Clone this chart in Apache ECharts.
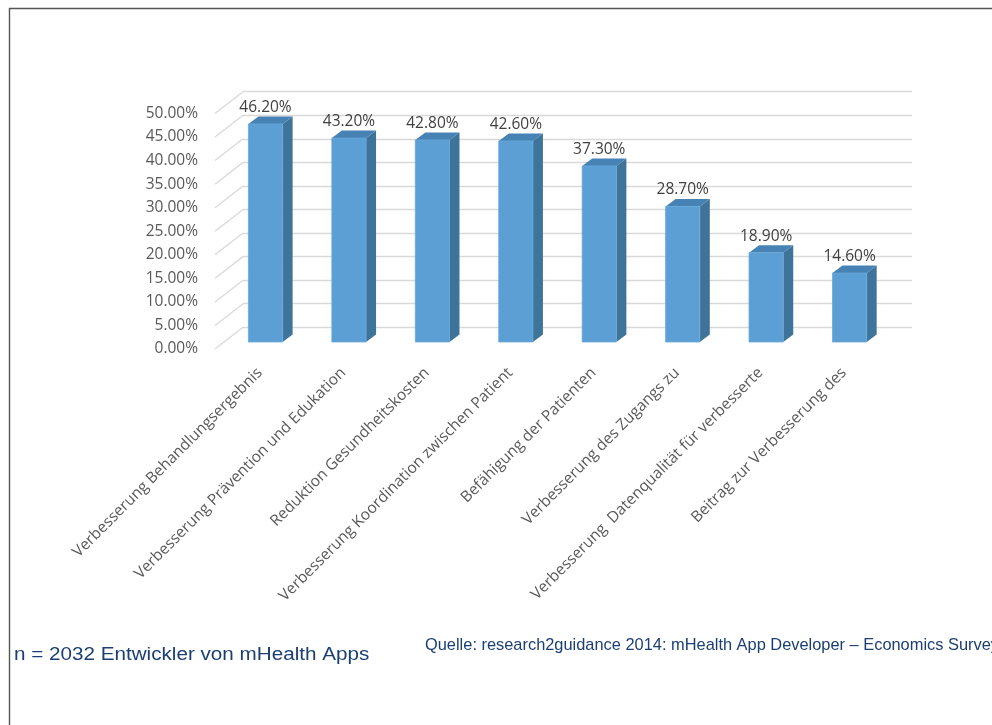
<!DOCTYPE html>
<html><head><meta charset="utf-8">
<script src="https://cdn.jsdelivr.net/npm/echarts@6/dist/echarts.min.js"></script>
<style>html,body{margin:0;padding:0;background:#fff}#c{width:992px;height:725px}</style>
</head><body><div id="c"></div>
<script>
const categories = [
  'Verbesserung Behandlungsergebnis',
  'Verbesserung Prävention und Edukation',
  'Reduktion Gesundheitskosten',
  'Verbesserung Koordination zwischen Patient',
  'Befähigung der Patienten',
  'Verbesserung des Zugangs zu',
  'Verbesserung  Datenqualität für verbesserte',
  'Beitrag zur Verbesserung des'
];
const values = [46.2, 43.2, 42.8, 42.6, 37.3, 28.7, 18.9, 14.6];
const yTicks = [0, 5, 10, 15, 20, 25, 30, 35, 40, 45, 50];
const noteText = 'n = 2032 Entwickler von mHealth Apps';
const sourceText = 'Quelle: research2guidance 2014: mHealth App Developer – Economics Survey';

const FONT = '"Open Sans", "Noto Sans", sans-serif';
const DX = 10, DY = 7.5;
const chart = echarts.init(document.getElementById('c'), null, {renderer: 'canvas'});

function fmt(v) { return v.toFixed(2) + '%'; }

chart.setOption({
  animation: false,
  backgroundColor: '#ffffff',
  grid: [
    {left: 243, top: 91.7, width: 669, height: 235.6},
    {left: 215, top: 113.5, width: 28, height: 235.5},
    {left: 223.8, top: 106, width: 667.5, height: 236}
  ],
  xAxis: [
    {gridIndex: 0, type: 'value', min: 0, max: 1, show: false},
    {gridIndex: 1, type: 'value', min: 0, max: 1, show: false},
    {gridIndex: 2, type: 'category', data: categories,
      axisLine: {show: false}, axisTick: {show: false},
      axisLabel: {rotate: 45, margin: 34, interval: 0, verticalAlign: 'bottom',
        color: '#595959', fontSize: 15.5, fontFamily: FONT}}
  ],
  yAxis: [
    {gridIndex: 0, type: 'value', min: 0, max: 50, interval: 5,
      axisLine: {show: false}, axisTick: {show: false}, axisLabel: {show: false},
      splitLine: {show: true, lineStyle: {color: '#d9d9d9', width: 1.3}}},
    {gridIndex: 1, type: 'value', min: 0, max: 50, interval: 5,
      axisLine: {show: false}, axisTick: {show: false}, splitLine: {show: false},
      axisLabel: {margin: 17, color: '#595959', fontSize: 15.5, fontFamily: FONT, formatter: fmt}},
    {gridIndex: 2, type: 'value', min: 0, max: 50, show: false}
  ],
  series: [{
    type: 'custom',
    xAxisIndex: 2, yAxisIndex: 2,
    z: 5,
    data: values.map((v, i) => [i, v]),
    renderItem: function (params, api) {
      const i = api.value(0), v = api.value(1);
      const top = api.coord([i, v]);
      const bot = api.coord([i, 0]);
      const w = api.size([1, 0])[0] * 0.41;
      const x1 = top[0] - w / 2, x2 = top[0] + w / 2;
      const yT = top[1], yB = bot[1];
      return {
        type: 'group',
        children: [
          {type: 'polygon', shape: {points: [[x2, yT], [x2 + DX, yT - DY], [x2 + DX, yB - DY], [x2, yB]]},
            style: {fill: '#3e7499'}},
          {type: 'polygon', shape: {points: [[x1, yT], [x1 + DX, yT - DY], [x2 + DX, yT - DY], [x2, yT]]},
            style: {fill: '#4682b4'}},
          {type: 'rect', shape: {x: x1, y: yT, width: w, height: yB - yT},
            style: {fill: '#5b9fd4', stroke: '#6aa8da', lineWidth: 0.8}},
          {type: 'text', style: {text: fmt(v), x: top[0], y: yT - 16.5, align: 'center', verticalAlign: 'middle',
            fill: '#404040', font: '15.5px ' + FONT}}
        ]
      };
    }
  }]
});

// floor/side diagonal grid lines linking the front label plane to the back wall
const xFront = chart.convertToPixel({xAxisIndex: 1}, 0);
const xBack = chart.convertToPixel({xAxisIndex: 0}, 0);
const gfx = yTicks.map(v => ({
  type: 'line', z: 0, silent: true,
  shape: {x1: xFront, y1: chart.convertToPixel({yAxisIndex: 1}, v),
          x2: xBack, y2: chart.convertToPixel({yAxisIndex: 0}, v)},
  style: {stroke: '#d9d9d9', lineWidth: 1.3}
}));
gfx.push(
  {type: 'line', z: 10, shape: {x1: 9.5, y1: 8, x2: 9.5, y2: 725}, style: {stroke: '#555555', lineWidth: 1.4}},
  {type: 'line', z: 10, shape: {x1: 9, y1: 8.5, x2: 992, y2: 8.5}, style: {stroke: '#555555', lineWidth: 1.4}},
  {type: 'text', z: 10, x: 14, y: 655, scaleX: 1.18,
    style: {text: noteText, fill: '#1c3f73', font: '17.5px "Liberation Sans", Arial, sans-serif', verticalAlign: 'middle'}},
  {type: 'text', z: 10, x: 425, y: 645,
    style: {text: sourceText, fill: '#1c3f73', font: '16.4px "Liberation Sans", Arial, sans-serif', verticalAlign: 'middle'}}
);
chart.setOption({graphic: gfx});
</script></body></html>
